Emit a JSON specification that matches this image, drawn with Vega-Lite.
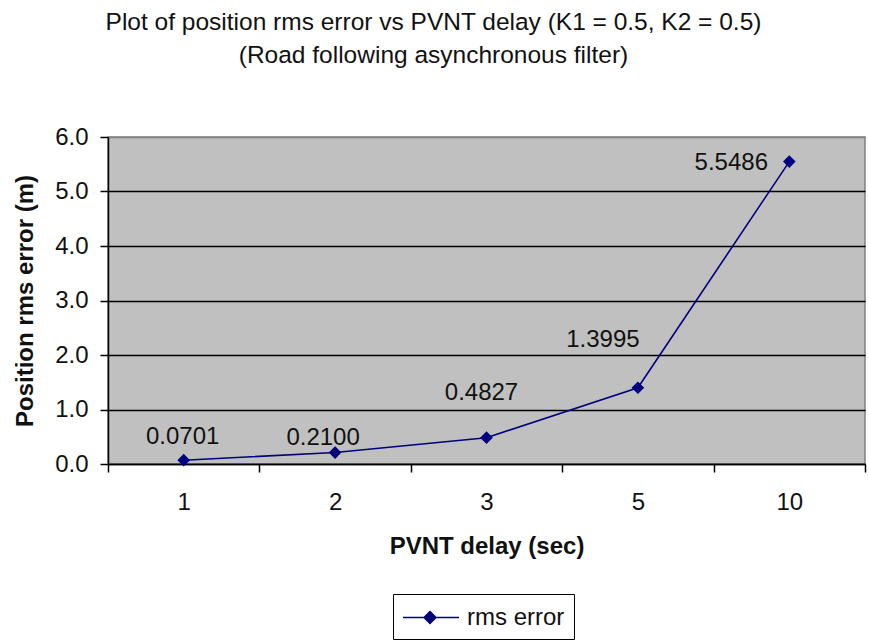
{
  "$schema": "https://vega.github.io/schema/vega-lite/v6.json",
  "autosize": {"type": "none"},
  "padding": {"left": 108, "top": 137, "right": 4, "bottom": 179},
  "width": 757,
  "height": 327,
  "background": "white",
  "title": {
    "text": ["Plot of position rms error vs PVNT delay (K1 = 0.5, K2 = 0.5)", "(Road following asynchronous filter)"],
    "font": "Liberation Sans",
    "fontSize": 24.5,
    "fontWeight": "normal",
    "color": "#111",
    "lineHeight": 33,
    "anchor": "middle",
    "dx": -53,
    "offset": 57
  },
  "config": {
    "font": "Liberation Sans",
    "view": {"fill": "#c0c0c0", "stroke": "#808080", "strokeWidth": 1.5},
    "axis": {
      "labelFont": "Liberation Sans",
      "labelFontSize": 24,
      "labelColor": "#111",
      "titleFont": "Liberation Sans",
      "titleFontSize": 24,
      "titleFontWeight": "bold",
      "titleColor": "#111",
      "domainColor": "black",
      "domainWidth": 1.5,
      "tickColor": "black",
      "tickWidth": 1.5,
      "tickSize": 8
    }
  },
  "data": {
    "values": [
      {"delay": "1", "rms": 0.0701},
      {"delay": "2", "rms": 0.2100},
      {"delay": "3", "rms": 0.4827},
      {"delay": "5", "rms": 1.3995},
      {"delay": "10", "rms": 5.5486}
    ]
  },
  "encoding": {
    "x": {
      "field": "delay",
      "type": "ordinal",
      "sort": ["1", "2", "3", "5", "10"],
      "scale": {"type": "band", "paddingInner": 0, "paddingOuter": 0},
      "axis": {
        "title": "PVNT delay (sec)",
        "labelAngle": 0,
        "tickBand": "extent",
        "labelPadding": 18,
        "titlePadding": 20,
        "grid": false
      }
    },
    "y": {
      "field": "rms",
      "type": "quantitative",
      "scale": {"domain": [0, 6], "nice": false},
      "axis": {
        "title": "Position rms error (m)",
        "values": [0, 1, 2, 3, 4, 5, 6],
        "format": ".1f",
        "labelPadding": 12,
        "titlePadding": 17,
        "grid": true,
        "gridWidth": 1.5,
        "gridOpacity": 1,
        "gridColor": {"condition": {"test": "datum.value === 6", "value": "#808080"}, "value": "black"}
      }
    }
  },
  "layer": [
    {
      "mark": {"type": "line", "strokeWidth": 1.6},
      "encoding": {
        "color": {
          "datum": "rms error",
          "scale": {"domain": ["rms error"], "range": ["#000080"]},
          "legend": {
            "title": null,
            "orient": "none",
            "legendX": 285,
            "legendY": 457,
            "strokeColor": "black",
            "fillColor": "white",
            "padding": 9,
            "labelFont": "Liberation Sans",
            "labelFontSize": 24,
            "labelColor": "#111",
            "labelOffset": 36,
            "symbolSize": 729,
            "symbolType": "M-1,0L3.15,0M1,-0.44L1.44,0L1,0.44L0.56,0Z",
            "symbolStrokeWidth": 1.5,
            "symbolFillColor": "#000080",
            "symbolStrokeColor": "#000080",
            "encode": {"symbols": {"update": {"fill": {"value": "#000080"}, "stroke": {"value": "#000080"}, "strokeWidth": {"value": 1.5}, "opacity": {"value": 1}}}}
          }
        }
      }
    },
    {
      "mark": {"type": "point", "shape": "diamond", "filled": true, "size": 160, "opacity": 1},
      "encoding": {
        "color": {"datum": "rms error"}
      }
    },
    {
      "transform": [{"filter": "datum.delay === '1'"}],
      "mark": {"type": "text", "fontSize": 24, "color": "#111", "dx": -1, "dy": -23},
      "encoding": {"text": {"field": "rms", "type": "quantitative", "format": ".4f"}}
    },
    {
      "transform": [{"filter": "datum.delay === '2'"}],
      "mark": {"type": "text", "fontSize": 24, "color": "#111", "dx": -12, "dy": -15},
      "encoding": {"text": {"field": "rms", "type": "quantitative", "format": ".4f"}}
    },
    {
      "transform": [{"filter": "datum.delay === '3'"}],
      "mark": {"type": "text", "fontSize": 24, "color": "#111", "dx": -5, "dy": -45},
      "encoding": {"text": {"field": "rms", "type": "quantitative", "format": ".4f"}}
    },
    {
      "transform": [{"filter": "datum.delay === '5'"}],
      "mark": {"type": "text", "fontSize": 24, "color": "#111", "dx": -35, "dy": -48},
      "encoding": {"text": {"field": "rms", "type": "quantitative", "format": ".4f"}}
    },
    {
      "transform": [{"filter": "datum.delay === '10'"}],
      "mark": {"type": "text", "fontSize": 24, "color": "#111", "dx": -58, "dy": 1},
      "encoding": {"text": {"field": "rms", "type": "quantitative", "format": ".4f"}}
    }
  ]
}
